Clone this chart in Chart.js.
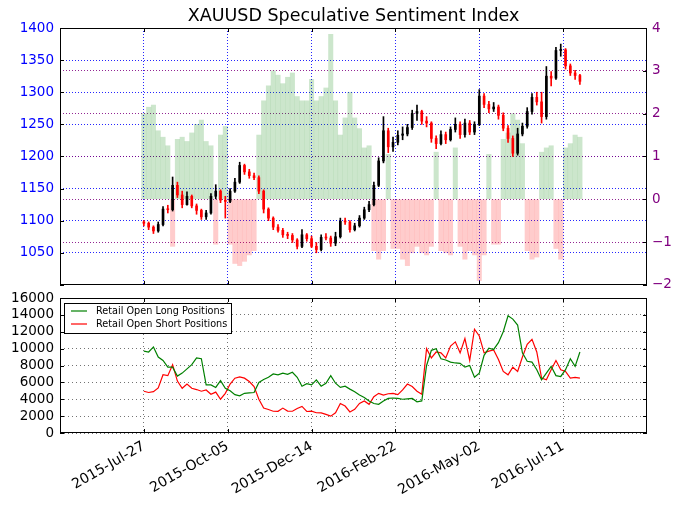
<!DOCTYPE html>
<html><head><meta charset="utf-8">
<script src="https://cdn.jsdelivr.net/npm/chart.js@4.4.0/dist/chart.umd.min.js"></script>
<style>
html,body{margin:0;padding:0;background:#fff;}
#wrap{position:relative;width:680px;height:508px;overflow:hidden;background:#fff;}
#c1{position:absolute;left:0;top:0;}
#c2{position:absolute;left:0;top:280px;}
</style></head><body>
<div id="wrap"><canvas id="c1" width="680" height="299"></canvas><canvas id="c2" width="680" height="228"></canvas></div>
<script>
// x values: days since 2015-07-27
const days = [0,4,8,12,16,20,24,28,32,36, 40,44,48,52,56,60,64,68,72,76,
  80,84,88,92,96,100,104,108,112,116, 120,124,128,132,136,140,144,148,152,156,
  160,164,168,172,176,180,184,188,192,196, 200,204,208,212,216,220,224,228,232,236,
  240,244,248,252,256,260,264,268,272,276, 280,284,288,292,296,300,304,308,312,316,
  320,324,328,332,336,340,344,348,352,356, 360,364];
const tickDays = [0,70,140,210,280,350];
const tickLabels = ['2015-Jul-27','2015-Oct-05','2015-Dec-14','2016-Feb-22','2016-May-02','2016-Jul-11'];

const priceOpen = [1098,1096,1090,1084,1094,1118,1117,1155,1140,1125,
  1138,1123,1116,1106,1112,1138,1146,1132,1130,1146,
  1160,1186,1176,1170,1167,1146,1118,1104,1090,1085,
  1078,1077,1070,1060,1078,1072,1060,1055,1074,1073,
  1065,1075,1099,1098,1086,1092,1104,1117,1125,1155,
  1193,1240,1215,1222,1233,1235,1245,1267,1270,1255,
  1252,1228,1220,1234,1226,1242,1250,1234,1252,1238,
  1250,1294,1281,1274,1277,1264,1244,1228,1205,1235,
  1247,1270,1292,1285,1262,1325,1322,1365,1366,1341,
  1330,1326];
const priceHigh = [1100,1098,1092,1098,1122,1124,1168,1160,1146,1145,
  1140,1126,1118,1116,1142,1156,1148,1138,1150,1166,
  1191,1188,1180,1174,1170,1148,1120,1106,1094,1088,
  1082,1080,1072,1086,1080,1076,1066,1078,1080,1076,
  1082,1104,1104,1100,1096,1108,1121,1130,1160,1198,
  1262,1244,1230,1240,1246,1250,1272,1280,1272,1262,
  1254,1232,1240,1238,1246,1260,1254,1258,1256,1254,
  1304,1298,1286,1284,1280,1268,1248,1232,1244,1252,
  1276,1298,1300,1300,1340,1332,1370,1375,1368,1344,
  1334,1328];
const priceLow = [1092,1086,1080,1082,1092,1112,1115,1136,1120,1124,
  1120,1110,1102,1102,1110,1134,1128,1104,1128,1144,
  1158,1172,1166,1164,1142,1112,1100,1086,1082,1074,
  1072,1066,1056,1058,1068,1058,1050,1053,1070,1060,
  1061,1073,1094,1082,1084,1090,1102,1114,1123,1153,
  1190,1206,1208,1218,1226,1232,1242,1256,1250,1246,
  1222,1212,1218,1220,1224,1238,1228,1230,1234,1234,
  1248,1276,1268,1270,1258,1240,1222,1200,1202,1232,
  1244,1266,1280,1252,1258,1310,1320,1356,1336,1326,
  1320,1312];
const priceClose = [1096,1090,1084,1094,1118,1117,1155,1140,1125,1138,
  1123,1116,1106,1112,1138,1146,1132,1130,1146,1160,
  1186,1176,1170,1167,1146,1118,1104,1090,1085,1078,
  1077,1070,1060,1078,1072,1060,1055,1074,1073,1065,
  1075,1099,1098,1086,1092,1104,1117,1125,1155,1193,
  1240,1215,1222,1233,1235,1245,1267,1270,1255,1252,
  1228,1220,1234,1226,1242,1250,1234,1252,1238,1250,
  1294,1281,1274,1277,1264,1244,1228,1205,1235,1247,
  1270,1292,1285,1262,1325,1322,1365,1366,1341,1330,
  1326,1317];
const ssi = [2.0,2.15,2.2,1.6,1.45,1.25,-1.1,1.4,1.45,1.35,
  1.55,1.75,1.85,1.35,1.25,-1.05,1.5,1.7,-1.05,-1.5,
  -1.55,-1.45,-1.3,-1.2,1.5,2.3,2.65,3.0,2.9,2.7,
  2.85,2.95,2.4,2.3,2.3,2.8,2.3,2.4,2.6,3.85,
  2.3,1.5,1.9,2.5,1.9,1.65,1.2,1.25,-1.2,-1.4,
  -1.2,1.05,-1.15,-1.15,-1.4,-1.55,-1.25,-1.1,-1.25,-1.3,
  -1.1,1.1,-1.2,-1.25,-1.3,1.2,-1.1,-1.4,-1.2,-1.3,
  -1.9,-1.3,1.05,-1.05,-1.05,1.4,1.55,2.0,1.85,1.3,
  -1.2,-1.4,-1.35,1.1,1.2,1.25,-1.15,-1.4,1.2,1.3,
  1.5,1.45];
const longPos = [9700,9600,10200,9000,8600,7800,7800,6750,7100,7600,
  8100,8900,8800,5700,5700,5400,6200,5300,5000,4550,
  4400,4700,4750,4800,6000,6350,6600,7000,6900,7100,
  6950,7200,6600,5550,5850,5700,6300,5550,5900,6800,
  5900,5400,5550,5200,4900,4500,4200,3800,3500,3400,
  3800,4100,4150,4100,4000,4050,4100,3700,3800,8000,
  9800,10000,8800,8650,8400,8300,8250,7800,8000,6600,
  7100,9200,10050,9900,10700,12000,13900,13500,12800,9500,
  8500,8400,7500,6300,7100,7900,6800,6700,7500,8800,
  7900,9600];
const shortPos = [4950,4800,4900,5350,6900,6800,8100,6150,5300,5800,
  5300,5150,4950,5100,4600,4850,4000,4700,5800,6500,
  6650,6500,6100,5500,4000,2950,2780,2580,2570,2950,
  2600,2580,2900,3150,2550,2600,2400,2380,2200,2000,
  2400,3500,3200,2500,2800,3500,3800,3400,4300,4700,
  4500,4650,4700,4550,5100,5800,5500,4950,4600,10000,
  8900,9600,9500,8900,10300,10800,9500,11200,8600,12300,
  11500,9500,9700,9850,8700,7300,6900,7800,7300,9000,
  10500,11100,9600,6500,6300,7500,8600,7500,7300,6500,
  6600,6500];
const seriesNames = ['Retail Open Long Positions','Retail Open Short Positions'];
const titleText = 'XAUUSD Speculative Sentiment Index';

const FONT = "'DejaVu Sans', sans-serif";
const X_MIN = -70, X_MAX = 420;
const minusFmt = v => v < 0 ? '\u2212' + Math.abs(v) : String(v);

const frame = {
  id: 'frame',
  afterDraw(chart, args, opts) {
    const {ctx, chartArea: a} = chart;
    ctx.save();
    ctx.lineWidth = 1;
    const L = 4;
    for (const id of Object.keys(chart.scales)) {
      const s = chart.scales[id];
      ctx.strokeStyle = '#000';
      s.ticks.forEach(t => {
        const p = Math.round(s.getPixelForValue(t.value)) + 0.5;
        ctx.beginPath();
        if (s.axis === 'x') {
          ctx.moveTo(p, a.bottom); ctx.lineTo(p, a.bottom - L);
          ctx.moveTo(p, a.top); ctx.lineTo(p, a.top + L);
        } else if (s.position === 'left') {
          ctx.moveTo(a.left, p); ctx.lineTo(a.left + L, p);
          if (opts.mirrorY) { ctx.moveTo(a.right, p); ctx.lineTo(a.right - L, p); }
        } else {
          ctx.moveTo(a.right, p); ctx.lineTo(a.right - L, p);
        }
        ctx.stroke();
      });
    }
    ctx.strokeStyle = '#000';
    ctx.strokeRect(Math.round(a.left) + 0.5, Math.round(a.top) + 0.5,
      Math.round(a.right - a.left) - 1, Math.round(a.bottom - a.top) - 1);
    ctx.restore();
  }
};

const legendBox = {
  id: 'legendBox',
  afterDraw(chart) {
    const {ctx, chartArea: a} = chart;
    const x0 = a.left + 4, y0 = a.top + 5, w = 167, h = 30;
    ctx.save();
    ctx.fillStyle = '#fff';
    ctx.fillRect(x0, y0, w, h);
    ctx.strokeStyle = '#000'; ctx.lineWidth = 1;
    ctx.strokeRect(x0 + 0.5, y0 + 0.5, w, h);
    ctx.font = "9.7px " + FONT;
    ctx.textBaseline = 'middle';
    chart.data.datasets.forEach((ds, i) => {
      const yy = y0 + 8 + i * 13;
      ctx.strokeStyle = ds.borderColor; ctx.lineWidth = 1.2;
      ctx.beginPath(); ctx.moveTo(x0 + 7, yy); ctx.lineTo(x0 + 23, yy); ctx.stroke();
      ctx.fillStyle = '#000';
      ctx.fillText(ds.label, x0 + 32, yy);
    });
    ctx.restore();
  }
};

const upCol = '#000000', downCol = '#ff0000';
const candleCols = priceClose.map((c, i) => c >= priceOpen[i] ? upCol : downCol);

new Chart(document.getElementById('c1'), {
  type: 'bar',
  data: {
    datasets: [
      {
        label: 'SSI', yAxisID: 'y2', xAxisID: 'x', order: 3, grouped: false,
        data: days.map((d, i) => ({x: d, y: ssi[i]})),
        backgroundColor: ssi.map(v => v >= 0 ? 'rgba(0,128,0,0.2)' : 'rgba(255,0,0,0.2)'),
        barThickness: 4.4, borderWidth: 0
      },
      {
        label: 'wick', yAxisID: 'y', xAxisID: 'x', order: 2, grouped: false,
        data: days.map((d, i) => ({x: d, y: [priceLow[i], priceHigh[i]]})),
        backgroundColor: candleCols, barThickness: 1, borderWidth: 0
      },
      {
        label: 'body', yAxisID: 'y', xAxisID: 'x', order: 1, grouped: false,
        data: days.map((d, i) => ({x: d, y: [priceOpen[i], priceClose[i]]})),
        backgroundColor: candleCols, barThickness: 2, borderWidth: 0, minBarLength: 1
      }
    ]
  },
  options: {
    responsive: false, animation: false,
    layout: {padding: 0},
    plugins: {
      legend: {display: false}, tooltip: {enabled: false},
      title: {display: true, text: titleText, color: '#000', fullSize: false,
        font: {family: FONT, size: 17.5, weight: 'normal', lineHeight: 1.2},
        padding: {top: 6.2, bottom: 0.8}},
      frame: {}
    },
    scales: {
      x: {
        type: 'linear', min: X_MIN, max: X_MAX, offset: false,
        afterBuildTicks: s => { s.ticks = tickDays.map(v => ({value: v})); },
        ticks: {display: false},
        grid: {color: 'rgba(0,0,255,0.85)', drawTicks: false, offset: false},
        border: {display: false, dash: [1, 2]},
        afterFit: s => { s.height = 1; }
      },
      y: {
        position: 'left', min: 1000, max: 1400,
        ticks: {stepSize: 50, autoSkip: false, color: '#0000ff', padding: 6,
          font: {family: FONT, size: 13.5},
          callback: v => v === 1000 ? '' : String(v)},
        grid: {color: 'rgba(0,0,255,0.85)', drawTicks: false},
        border: {display: false, dash: [1, 2]},
        afterFit: s => { s.width = 60; }
      },
      y2: {
        position: 'right', min: -2, max: 4,
        ticks: {stepSize: 1, autoSkip: false, color: '#800080', padding: 5,
          font: {family: FONT, size: 13.5}, callback: minusFmt},
        grid: {color: 'rgba(128,0,128,0.85)', drawTicks: false},
        border: {display: false, dash: [1, 2]},
        afterFit: s => { s.width = 33; }
      }
    }
  },
  plugins: [frame]
});

new Chart(document.getElementById('c2'), {
  type: 'line',
  data: {
    datasets: [
      {label: seriesNames[0], data: days.map((d, i) => ({x: d, y: longPos[i]})),
        borderColor: '#008000', borderWidth: 1.2, pointRadius: 0, tension: 0, fill: false},
      {label: seriesNames[1], data: days.map((d, i) => ({x: d, y: shortPos[i]})),
        borderColor: '#ff0000', borderWidth: 1.2, pointRadius: 0, tension: 0, fill: false}
    ]
  },
  options: {
    responsive: false, animation: false,
    layout: {padding: {top: 18, right: 33, left: 0, bottom: 0}},
    plugins: {legend: {display: false}, tooltip: {enabled: false}, frame: {mirrorY: true}},
    scales: {
      x: {
        type: 'linear', min: X_MIN, max: X_MAX, offset: false,
        afterBuildTicks: s => { s.ticks = tickDays.map(v => ({value: v})); },
        ticks: {autoSkip: false, minRotation: 30, maxRotation: 30, color: '#000', padding: 5,
          font: {family: FONT, size: 14},
          callback: v => { const k = tickDays.indexOf(v); return k >= 0 ? tickLabels[k] : ''; }},
        grid: {color: 'rgba(0,0,0,0.55)', drawTicks: false, offset: false},
        border: {display: false, dash: [1, 3]},
        afterFit: s => { s.height = 75; }
      },
      y: {
        position: 'left', min: 0, max: 16000,
        ticks: {stepSize: 2000, autoSkip: false, color: '#000', padding: 6,
          font: {family: FONT, size: 13.5}, callback: v => String(v)},
        grid: {color: 'rgba(0,0,0,0.55)', drawTicks: false},
        border: {display: false, dash: [1, 3]},
        afterFit: s => { s.width = 60; }
      }
    }
  },
  plugins: [frame, legendBox]
});
</script></body></html>
